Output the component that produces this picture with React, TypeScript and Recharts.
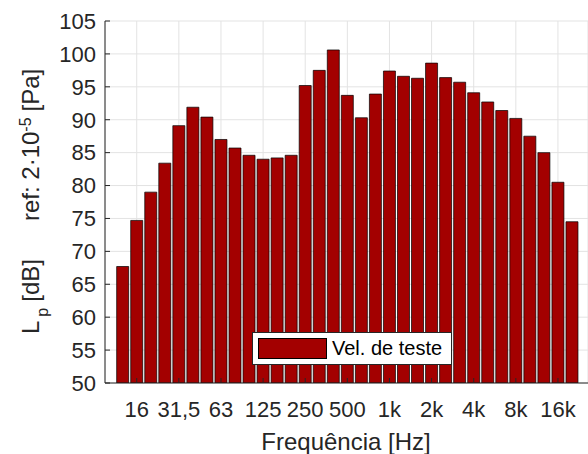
import React from 'react'
import { BarChart, Bar, XAxis, YAxis, CartesianGrid, Legend, Customized } from 'recharts'

// 1/3 octave bands, 12,5 Hz .. 20 kHz
const bands = ['12,5', '16', '20', '25', '31,5', '40', '50', '63', '80', '100', '125', '160', '200', '250', '315', '400', '500', '630', '800', '1k', '1,25k', '1,6k', '2k', '2,5k', '3,15k', '4k', '5k', '6,3k', '8k', '10k', '12,5k', '16k', '20k']
const levels = [67.7, 74.7, 79.0, 83.4, 89.1, 91.9, 90.4, 87.0, 85.7, 84.6, 84.0, 84.2, 84.6, 95.2, 97.5, 100.6, 93.7, 90.3, 93.9, 97.4, 96.6, 96.3, 98.6, 96.4, 95.7, 94.1, 92.7, 91.4, 90.2, 87.5, 85.0, 80.5, 74.5]
const xTicks = [1, 4, 7, 10, 13, 16, 19, 22, 25, 28, 31]
const yTicks = [50, 55, 60, 65, 70, 75, 80, 85, 90, 95, 100, 105]

const data = bands.map((band, idx) => ({ idx, band, level: levels[idx] }))

const AXIS = '#262626'
const BAR = '#A30000'
const FONT = '"Liberation Sans", Arial, sans-serif'
const xDomain: [number, number] = [-1.26, 33.14]
const yDomain: [number, number] = [50, 105]

const LegendBox = () => (
  <div style={{ boxSizing: 'border-box', width: 200, height: 33, border: '1px solid ' + AXIS, background: '#fff', display: 'flex', alignItems: 'center', fontFamily: FONT, fontSize: 20, color: '#000', whiteSpace: 'nowrap' }}>
    <span style={{ display: 'inline-block', boxSizing: 'border-box', width: 69, height: 21, background: BAR, border: '1px solid #000', marginLeft: 5, marginRight: 5 }} />
    Vel. de teste
  </div>
)

// rotated y label, written bottom-up from the L
const YLabel = () => (
  <text transform="translate(39,334) rotate(-90)" textAnchor="start" fontFamily={FONT} fontSize={24} fill={AXIS}>
    <tspan>L</tspan>
    <tspan dx={4} baselineShift="sub" fontSize={16}>p</tspan>
    <tspan dx={6}>[dB]</tspan>
    <tspan dx={38}>ref: 2·10</tspan>
    <tspan baselineShift="super" fontSize={16}>-5</tspan>
    <tspan dx={6}>[Pa]</tspan>
  </text>
)

export default function App() {
  const tickStyle = { fill: AXIS, fontSize: 22, fontFamily: FONT }
  return (
    <div style={{ position: 'absolute', left: 0, top: 0, width: 588, height: 454, background: '#fff' }}>
      <BarChart width={588} height={454} data={data} margin={{ top: 21, right: 0, bottom: 0, left: 0 }}>
        <CartesianGrid xAxisId="b" yAxisId="l" stroke="#e3e3e3" />
        <XAxis xAxisId="b" dataKey="idx" type="number" domain={xDomain} ticks={xTicks} interval={0}
          tickFormatter={(i: number) => bands[i]} height={71} tickSize={-5} tickMargin={23}
          stroke={AXIS} tick={tickStyle} allowDataOverflow />
        <XAxis xAxisId="t" orientation="top" dataKey="idx" type="number" domain={xDomain} ticks={xTicks} interval={0}
          tickFormatter={() => ''} height={0} tickSize={-5} stroke={AXIS} allowDataOverflow />
        <YAxis yAxisId="l" type="number" domain={yDomain} ticks={yTicks} interval={0} width={105}
          tickSize={-5} tickMargin={14} stroke={AXIS} tick={tickStyle} allowDataOverflow />
        <YAxis yAxisId="r" orientation="right" type="number" domain={yDomain} ticks={yTicks} interval={0} width={0}
          tickSize={-5} tickFormatter={() => ''} stroke={AXIS} allowDataOverflow />
        <Bar xAxisId="b" yAxisId="l" dataKey="level" name="Vel. de teste" fill={BAR} stroke="#000" strokeWidth={0.7}
          barSize={12} isAnimationActive={false} />
        <Legend layout="horizontal" verticalAlign="middle" align="center"
          wrapperStyle={{ left: 252, top: 332, width: 200, height: 33 }} content={() => <LegendBox />} />
        <Customized component={YLabel} />
        <text x={346} y={450} textAnchor="middle" fontFamily={FONT} fontSize={24} fill={AXIS}>
          Frequência [Hz]
        </text>
      </BarChart>
    </div>
  )
}
